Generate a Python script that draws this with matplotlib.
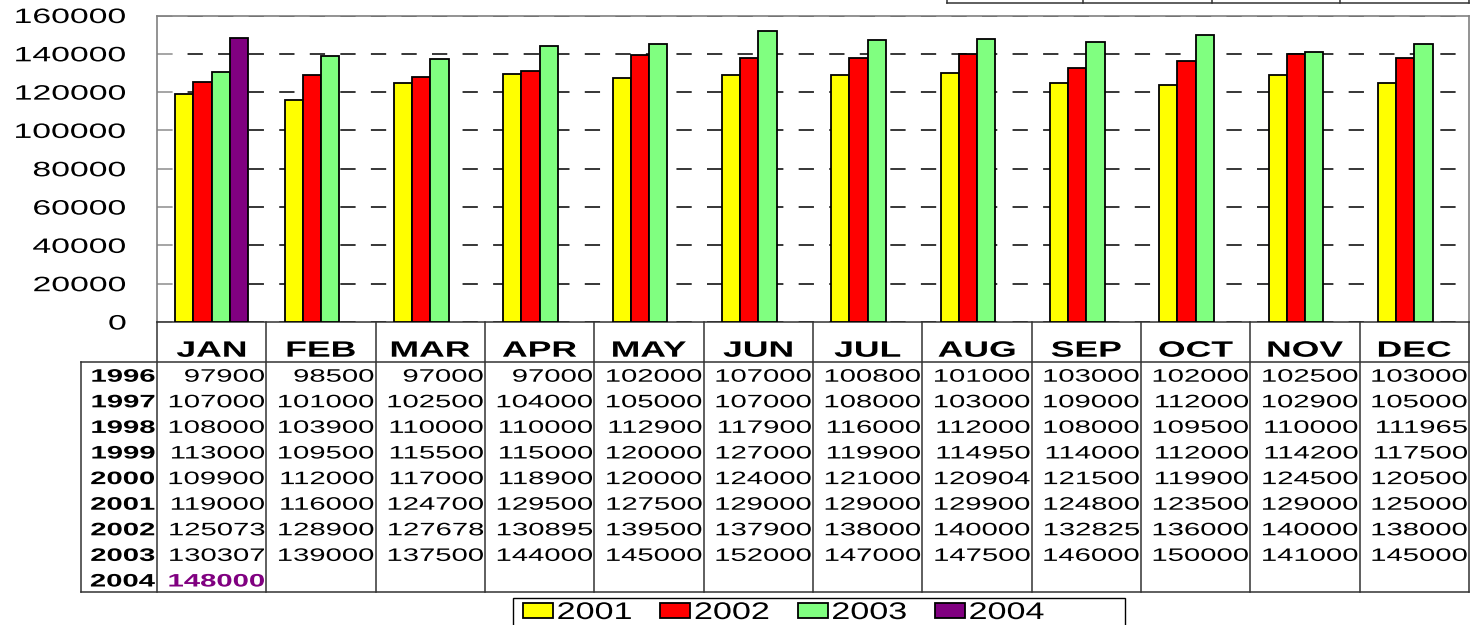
import numpy as np
import matplotlib
matplotlib.use("Agg")
import matplotlib.pyplot as plt
from matplotlib.patheffects import AbstractPathEffect
from matplotlib.transforms import Affine2D
from matplotlib.patches import Rectangle

plt.rcParams['font.family'] = ['Liberation Sans', 'DejaVu Sans']

# ---------------- data ----------------
months = ['JAN', 'FEB', 'MAR', 'APR', 'MAY', 'JUN', 'JUL', 'AUG', 'SEP', 'OCT', 'NOV', 'DEC']
years = ['1996', '1997', '1998', '1999', '2000', '2001', '2002', '2003', '2004']
y1996 = [97900, 98500, 97000, 97000, 102000, 107000, 100800, 101000, 103000, 102000, 102500, 103000]
y1997 = [107000, 101000, 102500, 104000, 105000, 107000, 108000, 103000, 109000, 112000, 102900, 105000]
y1998 = [108000, 103900, 110000, 110000, 112900, 117900, 116000, 112000, 108000, 109500, 110000, 111965]
y1999 = [113000, 109500, 115500, 115000, 120000, 127000, 119900, 114950, 114000, 112000, 114200, 117500]
y2000 = [109900, 112000, 117000, 118900, 120000, 124000, 121000, 120904, 121500, 119900, 124500, 120500]
y2001 = [119000, 116000, 124700, 129500, 127500, 129000, 129000, 129900, 124800, 123500, 129000, 125000]
y2002 = [125073, 128900, 127678, 130895, 139500, 137900, 138000, 140000, 132825, 136000, 140000, 138000]
y2003 = [130307, 139000, 137500, 144000, 145000, 152000, 147000, 147500, 146000, 150000, 141000, 145000]
y2004 = [148000, None, None, None, None, None, None, None, None, None, None, None]
table_rows = [y1996, y1997, y1998, y1999, y2000, y2001, y2002, y2003, y2004]
bar_years = ['2001', '2002', '2003', '2004']
bar_series = [y2001, y2002, y2003, y2004]
bar_colors = ['#FFFF00', '#FF0000', '#80FF80', '#800080']
yticks = [0, 20000, 40000, 60000, 80000, 100000, 120000, 140000, 160000]


class HStretch(AbstractPathEffect):
    """Horizontally stretch text glyphs around an anchor."""
    def __init__(self, sx, anchor='center'):
        super().__init__()
        self.sx = sx
        self.anchor = anchor

    def draw_path(self, renderer, gc, tpath, affine, rgbFace=None):
        if len(tpath.vertices) == 0:
            return
        bb = tpath.get_extents(affine)
        if self.anchor == 'right':
            ax_ = bb.x1
        elif self.anchor == 'left':
            ax_ = bb.x0
        else:
            ax_ = 0.5 * (bb.x0 + bb.x1)
        t = affine + Affine2D().translate(-ax_, 0).scale(self.sx, 1).translate(ax_, 0)
        renderer.draw_path(gc, tpath, t, rgbFace)


W, H = 1482, 625
fig = plt.figure(figsize=(W / 100, H / 100), dpi=100)
fig.patch.set_facecolor('white')

L, R, T, B = 157, 1469, 15.5, 322
ax = fig.add_axes([L / W, (H - B) / H, (R - L) / W, (B - T) / H])
ax.set_xlim(-0.5, len(months) - 0.5)
ax.set_ylim(0, 160000)
ax.set_axisbelow(True)

bw = 1 / 6
x = np.arange(len(months))
for j, (lab, ser, col) in enumerate(zip(bar_years, bar_series, bar_colors)):
    xs = [xi + (j - 1.5) * bw for xi, v in zip(x, ser) if v is not None]
    vs = [v for v in ser if v is not None]
    ax.bar(xs, vs, width=bw, color=col, edgecolor='black', linewidth=1.3, label=lab, zorder=3)

ax.set_yticks(yticks)
ax.set_yticklabels([str(t) for t in yticks])
ax.set_xticks([])
ax.yaxis.grid(True, color='black', linewidth=1.1, linestyle=(0, (10, 10)))
ax.tick_params(axis='y', direction='in', length=11, width=1.1, color='#c8c8c8',
               pad=22, labelsize=15)
for lbl in ax.get_yticklabels():
    lbl.set_path_effects([HStretch(1.62, 'right')])
for side in ['left', 'right', 'top']:
    ax.spines[side].set_color('#808080')
    ax.spines[side].set_linewidth(1.2)
ax.spines['bottom'].set_color('#333333')
ax.spines['bottom'].set_linewidth(1.1)

# ---------------- overlay for the data table ----------------
ov = fig.add_axes([0, 0, 1, 1], zorder=2)
ov.set_xlim(0, W)
ov.set_ylim(H, 0)
ov.axis('off')
ov.patch.set_alpha(0)

lc = '#333333'
lw = 1.1
colw = (R - L) / len(months)
edges = [L + k * colw for k in range(len(months) + 1)]
head_bot = 362
row_h = 25.6
tab_bot = head_bot + row_h * len(years)
tab_left = 80.7

# vertical lines
for e in edges:
    ov.plot([e, e], [B, tab_bot], color=lc, lw=lw)
ov.plot([tab_left, tab_left], [head_bot, tab_bot], color=lc, lw=lw)
ov.plot([tab_left, R], [head_bot, head_bot], color=lc, lw=lw)
ov.plot([tab_left, R], [tab_bot, tab_bot], color=lc, lw=lw)

# month header
for i, m in enumerate(months):
    t = ov.text(L + (i + 0.5) * colw, 356.7, m, ha='center', va='baseline',
                fontsize=16, fontweight='bold')
    t.set_path_effects([HStretch(1.6, 'center')])

# rows
for r, (yr, vals) in enumerate(zip(years, table_rows)):
    yb = head_bot + r * row_h + 19.7
    t = ov.text(155, yb, yr, ha='right', va='baseline', fontsize=13, fontweight='bold')
    t.set_path_effects([HStretch(1.62, 'right')])
    for i, v in enumerate(vals):
        if v is None:
            continue
        is2004 = yr == '2004'
        t = ov.text(edges[i + 1] - 1.5, yb, str(v), ha='right', va='baseline', fontsize=13,
                    fontweight='bold' if is2004 else 'normal',
                    color='#800080' if is2004 else 'black')
        t.set_path_effects([HStretch(1.62, 'right')])

# cut-off box fragment at top right
frag_x = [947, 1083, 1212, 1340, 1469]
ov.plot([frag_x[0], frag_x[-1]], [2.7, 2.7], color=lc, lw=lw)
for fx in frag_x:
    ov.plot([fx, fx], [0, 2.7], color=lc, lw=lw)

# legend frame
ov.add_patch(Rectangle((513, 598), 1125 - 513, 40, facecolor='white', edgecolor='black', lw=1.0))

fs_leg = 17.3
leg = fig.legend(loc='upper left', bbox_to_anchor=(523 / W, 1 - 602 / H), ncol=4,
                 frameon=False, fontsize=fs_leg, borderpad=0, borderaxespad=0,
                 handlelength=1.25, handleheight=0.54, handletextpad=0.17,
                 columnspacing=2.07)
leg.set_zorder(5)
for txt in leg.get_texts():
    txt.set_path_effects([HStretch(1.42, 'left')])

fig.savefig('out.png', dpi=100, facecolor='white')
